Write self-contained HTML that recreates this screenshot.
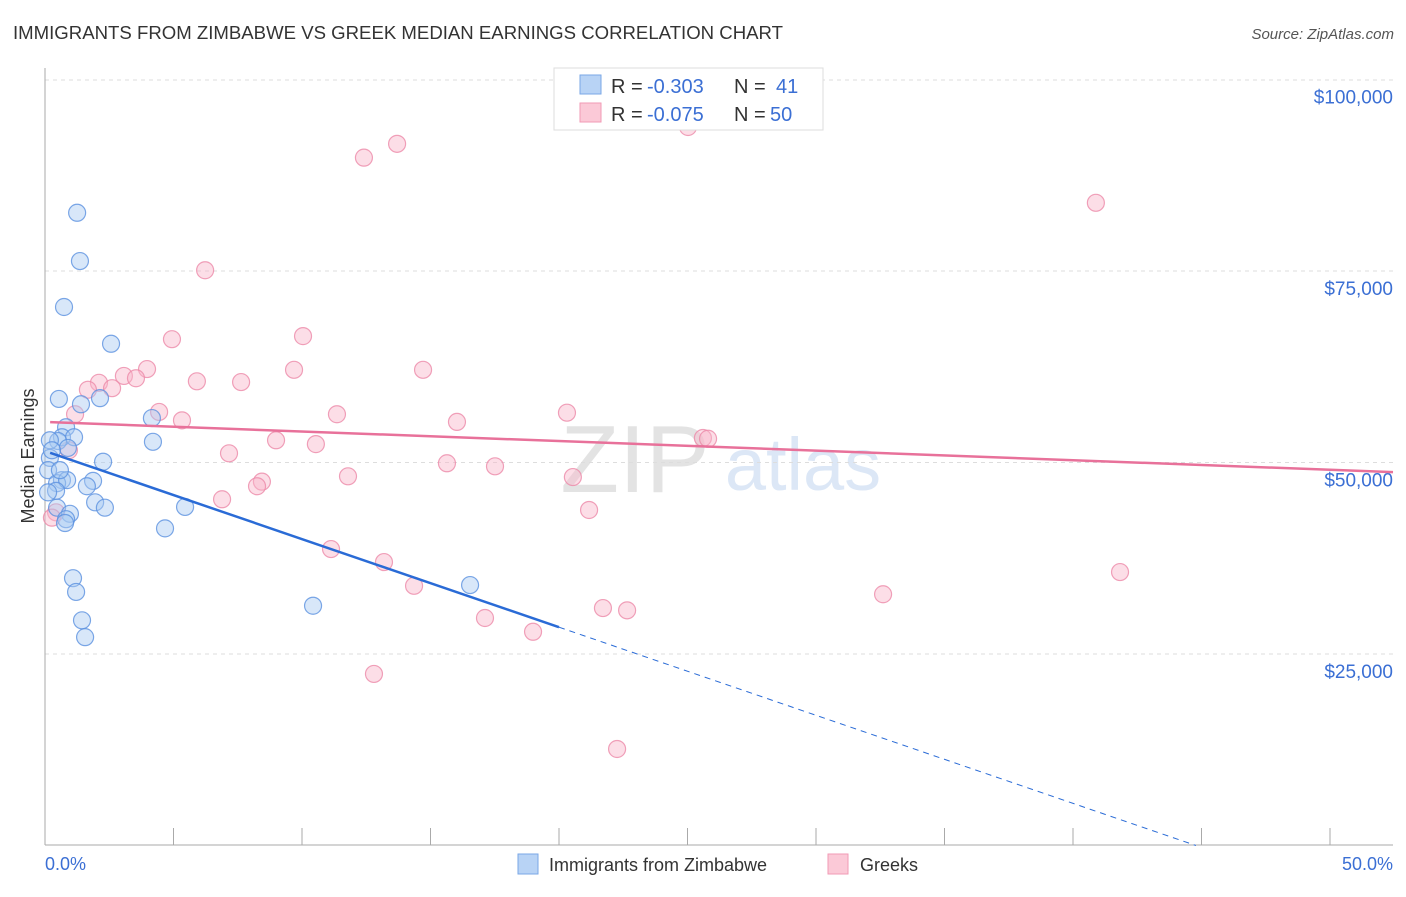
<!DOCTYPE html>
<html><head><meta charset="utf-8"><style>
body{margin:0;background:#fff;font-family:"Liberation Sans",sans-serif}
svg text{font-family:"Liberation Sans",sans-serif}
</style></head><body>
<svg id="chart" width="1406" height="892" viewBox="0 0 1406 892" xmlns="http://www.w3.org/2000/svg">
<text x="13" y="39" font-size="18.6" fill="#333">IMMIGRANTS FROM ZIMBABWE VS GREEK MEDIAN EARNINGS CORRELATION CHART</text>
<text x="1394" y="39" font-size="15" fill="#555" text-anchor="end" font-style="italic">Source: ZipAtlas.com</text>
<g opacity="0.4">
<text x="635" y="492" font-size="96" fill="#bbb" text-anchor="middle" font-family="Liberation Serif">ZIP</text>
<text x="803" y="490" font-size="74" fill="#a9c4ea" text-anchor="middle">atlas</text>
</g>
<g id="grid"></g>
<g id="axes"></g>
<g id="marks"></g>
<text transform="translate(34,456) rotate(-90)" font-size="18" fill="#333" text-anchor="middle">Median Earnings</text>
<text x="45" y="870" font-size="18" fill="#3b6fd4">0.0%</text>
<text x="1393" y="870" font-size="18" fill="#3b6fd4" text-anchor="end">50.0%</text>
<g>
<rect x="554" y="68" width="269" height="62" fill="#fff" stroke="#ddd"/>
<rect x="580" y="75" width="21" height="19" fill="#b8d3f5" stroke="#7aa7e6"/>
<text x="611" y="93" font-size="20" fill="#333">R = </text><text x="647" y="93" font-size="20" fill="#3b6fd4">-0.303</text>
<text x="734" y="93" font-size="20" fill="#333">N = </text><text x="776" y="93" font-size="20" fill="#3b6fd4">41</text>
<rect x="580" y="103" width="21" height="19" fill="#fbc9d7" stroke="#f19ab4"/>
<text x="611" y="121" font-size="20" fill="#333">R = </text><text x="647" y="121" font-size="20" fill="#3b6fd4">-0.075</text>
<text x="734" y="121" font-size="20" fill="#333">N = </text><text x="770" y="121" font-size="20" fill="#3b6fd4">50</text>
</g>
<g>
<rect x="518" y="854" width="20" height="20" fill="#b8d3f5" stroke="#7aa7e6"/>
<text x="549" y="871" font-size="18" fill="#333">Immigrants from Zimbabwe</text>
<rect x="828" y="854" width="20" height="20" fill="#fbc9d7" stroke="#f19ab4"/>
<text x="860" y="871" font-size="18" fill="#333">Greeks</text>
</g>
</svg>
<script>
const yTicks=[25000,50000,75000,100000];
const yTickLabels=["$25,000","$50,000","$75,000","$100,000"];
const xTicks=[0,5,10,15,20,25,30,35,40,45,50];
const blueX=[1.25,1.36,0.74,2.57,0.54,1.40,2.14,4.16,0.82,0.66,1.13,0.51,4.20,0.89,2.26,0.19,0.12,0.66,0.47,0.86,1.87,1.63,0.43,0.12,1.95,2.33,5.45,0.47,0.97,0.82,0.78,4.67,1.09,1.21,1.44,1.56,10.43,16.54,0.19,0.27,0.58];
const blueY=[82600,76300,70300,65500,58300,57600,58400,55800,54600,53300,53300,52800,52700,51900,50100,50600,49000,47700,47300,47700,47600,46900,46300,46100,44800,44100,44200,44100,43300,42600,42100,41400,34900,33100,29400,27200,31300,34000,52900,51600,49000];
const pinkX=[12.41,13.70,25.02,40.89,6.23,4.94,10.04,3.97,3.07,2.10,2.61,3.54,5.91,7.63,9.69,14.71,4.44,5.33,11.36,16.03,20.31,1.17,1.67,0.93,8.99,10.54,7.16,25.60,25.80,15.64,17.51,11.79,20.54,6.89,8.44,8.25,21.17,0.43,11.13,13.19,14.36,41.83,32.61,21.71,22.65,17.12,18.99,12.80,22.26,0.27];
const pinkY=[89800,91600,93800,83900,75100,66100,66500,62200,61300,60400,59700,61000,60600,60500,62100,62100,56600,55500,56300,55300,56500,56300,59500,51600,52900,52400,51200,53200,53100,49900,49500,48200,48100,45200,47500,46900,43800,43500,38700,37000,33900,35700,32800,31000,30700,29700,27900,22400,12600,42800];
const blueTrend=[51500,-1150];
const pinkTrend=[55300,-125];
const NS="http://www.w3.org/2000/svg";
const X=v=>45+v*25.7;
const Y=v=>654-(v-25000)*191.5/25000;
function mk(p,tag,a){const e=document.createElementNS(NS,tag);for(const k in a)e.setAttribute(k,a[k]);p.appendChild(e);return e;}
const grid=document.getElementById('grid'),axes=document.getElementById('axes'),marks=document.getElementById('marks');
yTicks.forEach((t,i)=>{
 if(t<100000){
 const l=mk(grid,'line',{x1:45,x2:1393,y1:Y(t),y2:Y(t),stroke:'#ddd','stroke-dasharray':'4,4'});
 
 
 }
 const tx=mk(axes,'text',{x:1393,y:Y(t)+24,'font-size':19,fill:'#3b6fd4','text-anchor':'end'});
 tx.textContent=yTickLabels[i];
 
 
});
const tg=mk(grid,'line',{x1:45,x2:1393,y1:80,y2:80,stroke:'#ddd','stroke-dasharray':'4,4'});


const ya=mk(axes,'line',{x1:45,x2:45,y1:68,y2:845,stroke:'#aaa'});


const xa=mk(axes,'line',{x1:45,x2:1393,y1:845,y2:845,stroke:'#aaa'});


xTicks.forEach(t=>{
 const l=mk(axes,'line',{x1:X(t),x2:X(t),y1:828,y2:845,stroke:'#aaa'});
 
 
});
function pts(xs,ys,fill,stroke,name){
 xs.forEach((x,i)=>{
  const c=mk(marks,'circle',{cx:X(x),cy:Y(ys[i]),r:8.5,fill:fill,'fill-opacity':0.45,stroke:stroke,'stroke-width':1.2,'stroke-opacity':0.8});
  
  
 });
}
pts(pinkX,pinkY,'#f8b6ca','#ec8aa9','point-greeks');
pts(blueX,blueY,'#a9c9f2','#5b91e0','point-zimbabwe');
const bt=v=>blueTrend[0]+blueTrend[1]*v;
const b1=mk(marks,'line',{x1:X(0.2),y1:Y(bt(0.2)),x2:X(20),y2:Y(bt(20)),stroke:'#2a6bd6','stroke-width':2.5});


const bx=-blueTrend[0]/blueTrend[1];
const b2=mk(marks,'line',{x1:X(20),y1:Y(bt(20)),x2:X(bx),y2:Y(0),stroke:'#2a6bd6','stroke-width':1,'stroke-dasharray':'6,5'});


const pt=v=>pinkTrend[0]+pinkTrend[1]*v;
const p1=mk(marks,'line',{x1:X(0.2),y1:Y(pt(0.2)),x2:1393,y2:Y(pt((1393-45)/25.7)),stroke:'#e8719a','stroke-width':2.5});


</script>
</body></html>
